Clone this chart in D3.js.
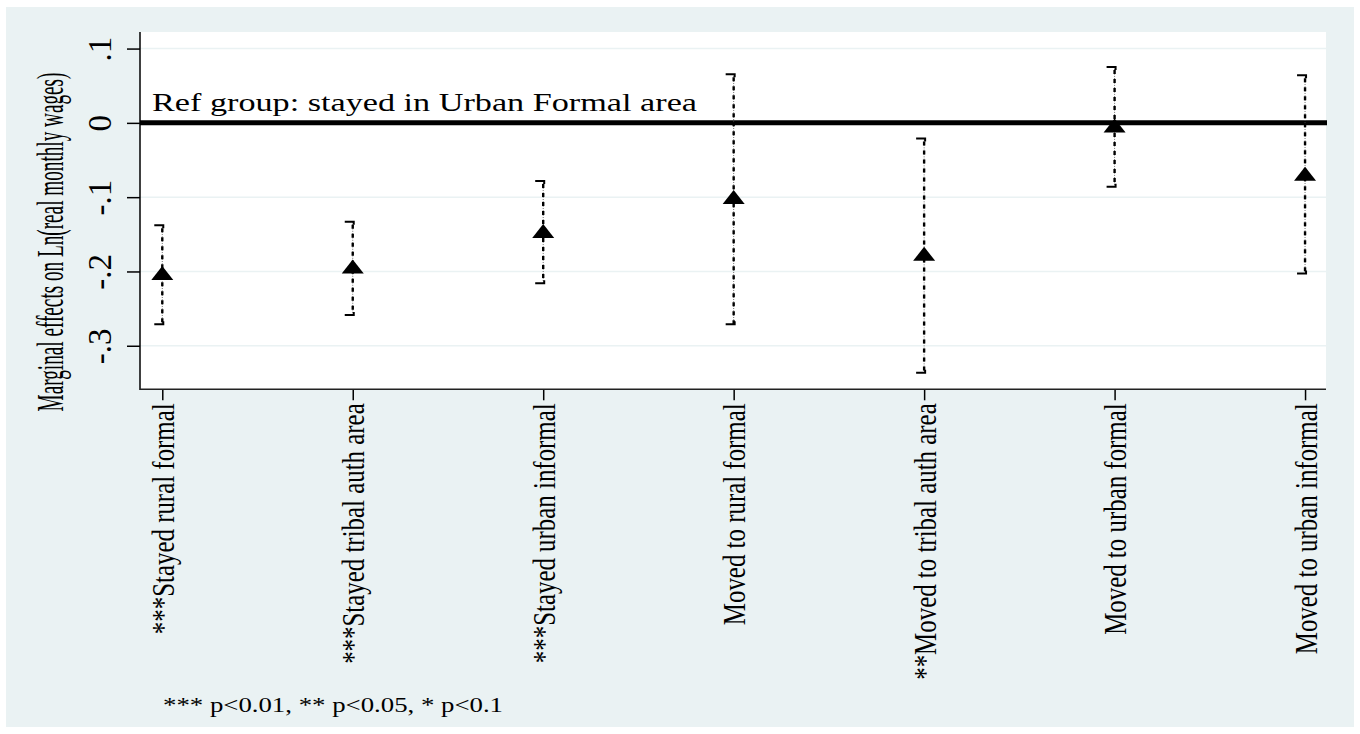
<!DOCTYPE html>
<html>
<head>
<meta charset="utf-8">
<script src="https://cdn.jsdelivr.net/npm/d3@7"></script>
<style>
  html, body { margin: 0; padding: 0; background: #fff; }
  svg { display: block; font-family: "Liberation Serif", "Times New Roman", serif; }
</style>
</head>
<body>
<svg id="chart" width="1360" height="734"></svg>
<script>
// Marginal effects of migration status on log real monthly wages, with 95% CIs
const categories = [
  "***Stayed rural formal",
  "***Stayed tribal auth area",
  "***Stayed urban informal",
  "Moved to rural formal",
  "**Moved to tribal auth area",
  "Moved to urban formal",
  "Moved to urban informal"
];
const estimates = [-0.2022, -0.1932, -0.1457, -0.0999, -0.1762, -0.0035, -0.0686];
const ciLower   = [-0.2712, -0.2587, -0.2157, -0.2712, -0.3362, -0.0861, -0.2026];
const ciUpper   = [-0.1377, -0.1332, -0.0784,  0.0655, -0.0210,  0.0753,  0.0642];
const yTicks      = [0.1, 0, -0.1, -0.2, -0.3];
const yTickLabels = [".1", "0", "-.1", "-.2", "-.3"];
const refValue = 0;
const refLabel = "Ref group: stayed in Urban Formal area";
const yTitle = "Marginal effects on Ln(real monthly wages)";
const note = "*** p<0.01, ** p<0.05, * p<0.1";

const W = 1360, H = 734;
const plot = { left: 140, right: 1326, top: 32, bottom: 389.3 };
const bg = "#eaf2f3";

const svg = d3.select("#chart");

// graph region
svg.append("rect").attr("x", 0).attr("y", 0).attr("width", W).attr("height", H).attr("fill", "#fff");
svg.append("rect").attr("x", 6).attr("y", 7).attr("width", W - 12).attr("height", H - 14).attr("fill", bg);
// plot region
svg.append("rect")
  .attr("x", plot.left).attr("y", plot.top)
  .attr("width", plot.right - plot.left).attr("height", plot.bottom - plot.top)
  .attr("fill", "#fff");

const x = d3.scaleLinear().domain([0.883, 7.110]).range([plot.left, plot.right]);
const y = d3.scaleLinear().domain([-0.3586, 0.1223]).range([plot.bottom, plot.top]);

// grid lines
svg.append("g").selectAll("line")
  .data(yTicks)
  .join("line")
  .attr("x1", plot.left).attr("x2", plot.right)
  .attr("y1", d => y(d)).attr("y2", d => y(d))
  .attr("stroke", bg).attr("stroke-width", 1.5);

// y axis
const yAxis = svg.append("g")
  .attr("transform", `translate(${plot.left},0)`)
  .call(d3.axisLeft(y).tickValues(yTicks).tickSize(13).tickSizeOuter(0)
    .tickFormat((d, i) => yTickLabels[i]));
yAxis.select(".domain").remove();
yAxis.selectAll(".tick line").attr("stroke", "#000").attr("stroke-width", 1.5);
yAxis.selectAll(".tick text")
  .attr("x", null).attr("dy", null)
  .attr("fill", "#000")
  .attr("font-size", 33)
  .attr("font-family", "Liberation Serif, serif")
  .attr("text-anchor", "middle")
  .attr("transform", "translate(-29,0) rotate(-90)");
svg.append("line")
  .attr("x1", plot.left).attr("x2", plot.left)
  .attr("y1", plot.top).attr("y2", plot.bottom + 0.75)
  .attr("stroke", "#000").attr("stroke-width", 1.5);

// x axis: vertical labels, glyphs drawn tall and narrow
const xAxis = svg.append("g")
  .attr("transform", `translate(0,${plot.bottom})`)
  .call(d3.axisBottom(x).tickValues(d3.range(1, categories.length + 1)).tickSize(11).tickSizeOuter(0)
    .tickFormat((d) => categories[d - 1]));
xAxis.select(".domain").remove();
xAxis.selectAll(".tick line").attr("stroke", "#000").attr("stroke-width", 1.5);
xAxis.selectAll(".tick text")
  .attr("y", null).attr("dy", null)
  .attr("fill", "#000")
  .attr("font-size", 24.9)
  .attr("font-family", "Liberation Serif, serif")
  .attr("text-anchor", "end")
  .attr("transform", "translate(11,14) scale(1.285,1) rotate(-90)");
svg.append("line")
  .attr("x1", plot.left).attr("x2", plot.right)
  .attr("y1", plot.bottom).attr("y2", plot.bottom)
  .attr("stroke", "#222").attr("stroke-width", 1.5);

// y axis title
svg.append("text")
  .attr("font-size", 19.2)
  .attr("text-anchor", "middle")
  .attr("transform", `translate(63,242) scale(1.98,1) rotate(-90)`)
  .text(yTitle);

// reference line at zero
svg.append("line")
  .attr("x1", plot.left).attr("x2", plot.right + 1)
  .attr("y1", y(refValue)).attr("y2", y(refValue))
  .attr("stroke", "#000").attr("stroke-width", 5);
svg.append("text")
  .attr("x", 152).attr("y", 110.5)
  .attr("font-size", 25)
  .attr("textLength", 545).attr("lengthAdjust", "spacingAndGlyphs")
  .text(refLabel);

// confidence intervals
const idx = d3.range(categories.length);
const ci = svg.append("g");
ci.selectAll("line.dots")
  .data(idx).join("line").attr("class", "dots")
  .attr("x1", i => x(i + 1)).attr("x2", i => x(i + 1))
  .attr("y1", i => y(ciUpper[i])).attr("y2", i => y(ciLower[i]))
  .attr("stroke", "#555").attr("stroke-width", 1)
  .attr("stroke-dasharray", "0.8 1.45");
ci.selectAll("line.dash")
  .data(idx).join("line").attr("class", "dash")
  .attr("x1", i => x(i + 1)).attr("x2", i => x(i + 1))
  .attr("y1", i => y(ciUpper[i])).attr("y2", i => y(ciLower[i]))
  .attr("stroke", "#000").attr("stroke-width", 2.4)
  .attr("stroke-dasharray", "4 5")
  .attr("stroke-dashoffset", -3);
// caps
ci.selectAll("path.cap-hi")
  .data(idx).join("path").attr("class", "cap-hi")
  .attr("d", i => `M${x(i + 1) - 8},${y(ciUpper[i])}H${x(i + 1) + 1}v3`)
  .attr("fill", "none").attr("stroke", "#000").attr("stroke-width", 2);
ci.selectAll("path.cap-lo")
  .data(idx).join("path").attr("class", "cap-lo")
  .attr("d", i => `M${x(i + 1) - 8},${y(ciLower[i])}H${x(i + 1) + 1}v-3`)
  .attr("fill", "none").attr("stroke", "#000").attr("stroke-width", 2);

// point estimates
svg.append("g").selectAll("path")
  .data(idx).join("path")
  .attr("transform", i => `translate(${x(i + 1)},${y(estimates[i])})`)
  .attr("d", "M0,-7L11,7L-11,7Z")
  .attr("fill", "#000");

// significance note
svg.append("text")
  .attr("x", 163).attr("y", 712)
  .attr("font-size", 21)
  .attr("textLength", 340).attr("lengthAdjust", "spacingAndGlyphs")
  .text(note);
</script>
</body>
</html>
